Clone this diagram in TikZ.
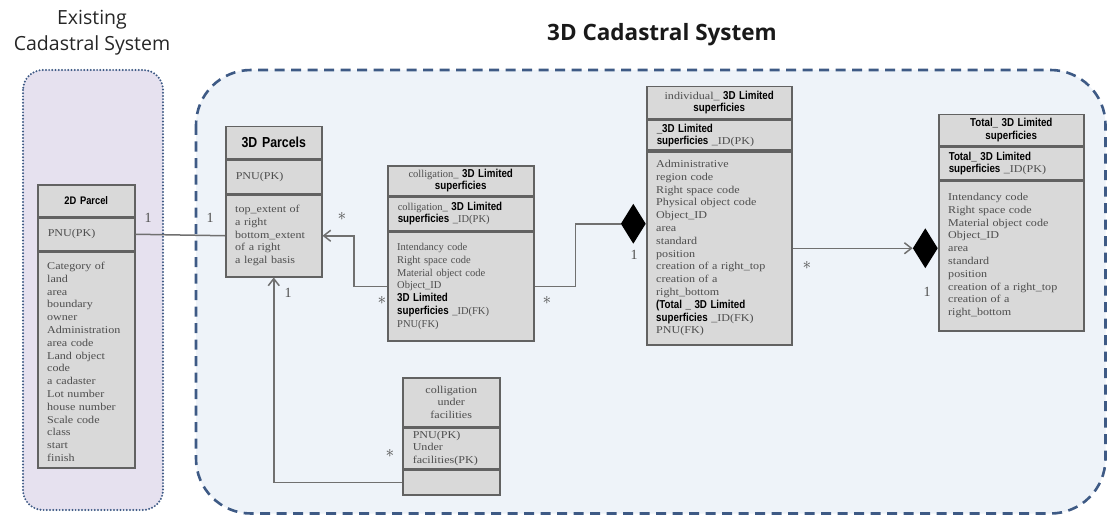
\documentclass[tikz,border=0pt]{standalone}
\usepackage{fontspec}
\setmainfont{Liberation Serif}
\newfontfamily\umlfont[FakeStretch=1.15]{Liberation Serif}
\newfontfamily\clsfont[FakeStretch=0.85]{Liberation Sans}
\newfontfamily\titlefont{Open Sans}
\usepackage{tikz}
\usetikzlibrary{shapes.geometric}
\usetikzlibrary{arrows.meta}
\usetikzlibrary{positioning}

\definecolor{oldbg}{HTML}{E6E1EF}
\definecolor{newbg}{HTML}{EEF3F9}
\definecolor{framecol}{HTML}{3E5A85}
\definecolor{boxfill}{HTML}{D9D9D9}
\definecolor{boxline}{HTML}{626262}
\definecolor{umltxt}{HTML}{4E4E4E}
\definecolor{conncol}{HTML}{707070}

\newcommand{\bsans}[1]{{\clsfont\bfseries\color{black}\fontsize{11.5}{12.5}\selectfont #1}}

\tikzset{
  sect/.style={draw=boxline, fill=boxfill, line width=1.5pt, anchor=north west,
    inner xsep=10pt, inner ysep=0pt, text width=#1, text=umltxt,
    font=\umlfont\fontsize{10.5}{12.5}\selectfont},
  head/.style={sect=#1, align=center},
  keyrow/.style={sect=#1, align=left},
  bodytext/.style={anchor=north west, inner xsep=10pt, inner ysep=11pt, text width=#1,
    align=left, text=umltxt, font=\umlfont\fontsize{10.5}{12.8}\selectfont},
  conn/.style={draw=conncol, line width=1.5pt},
  navarrow/.style={conn, -{Straight Barb[length=7pt,width=11pt]}},
  comp/.style={diamond, fill=black, inner sep=0pt, minimum width=25pt, minimum height=40pt},
  mult/.style={text=umltxt, font=\fontsize{14}{14}\selectfont, inner sep=0pt},
  manymult/.style={text=umltxt, font=\fontsize{17}{17}\selectfont, inner sep=0pt},
}

\begin{document}
\begin{tikzpicture}[x=1pt,y=-1pt]
\useasboundingbox (0,0) rectangle (1108,516);

%frames
\draw[fill=oldbg, draw=framecol, line width=2.2pt, line cap=round, dash pattern=on 0pt off 3.2pt, rounded corners=20pt] (23,70) rectangle (163,510);
\draw[fill=newbg, draw=framecol, line width=2.6pt, dash pattern=on 10pt off 6.5pt, rounded corners=55pt] (196,70) rectangle (1105.5,513.5);
\node[font=\titlefont\fontsize{19.5}{26}\selectfont, align=center, text=black!85] (oldtitle) at (92,33) {Existing\\Cadastral System};
\node[font=\titlefont\bfseries\fontsize{22.5}{26}\selectfont, text=black!90] (newtitle) at (662,35) {3D Cadastral System};

%2D Parcel
\node[head=77pt, minimum height=32pt, font=\clsfont\bfseries\fontsize{11}{13}\selectfont, text=black] (p2d-h) at (37,184) {2D Parcel};
\node[keyrow=77pt, minimum height=32pt] (p2d-k) at (p2d-h.south west) {PNU(PK)};
\node[sect=77pt, minimum height=216pt] (p2d-b) at (p2d-k.south west) {};
\node[bodytext=77pt] (p2d-t) at (p2d-b.north west) {Category of\\land\\area\\boundary\\owner\\Administration\\area code\\Land object\\code\\a cadaster\\Lot number\\house number\\Scale code\\class\\start\\finish};

%3D Parcels
\node[head=76pt, minimum height=32pt, font=\clsfont\bfseries\fontsize{14.5}{15}\selectfont, text=black] (p3d-h) at (225,126) {3D Parcels};
\node[keyrow=76pt, minimum height=33pt] (p3d-k) at (p3d-h.south west) {PNU(PK)};
\node[sect=76pt, minimum height=82pt] (p3d-b) at (p3d-k.south west) {};
\node[bodytext=76pt] (p3d-t) at (p3d-b.north west) {top\_extent of\\a right\\bottom\_extent\\of a right\\a legal basis};

%colligation 3D Limited superficies
\node[head=126pt, minimum height=30pt, font=\rmfamily\fontsize{10.5}{12.5}\selectfont] (coll-h) at (387,165) {colligation\_ \bsans{3D Limited}\\\bsans{superficies}};
\node[keyrow=126pt, minimum height=33pt, font=\rmfamily\fontsize{10.5}{12}\selectfont] (coll-k) at (coll-h.south west) {colligation\_ \bsans{3D Limited}\\\bsans{superficies} \_ID(PK)};
\node[sect=126pt, minimum height=109pt] (coll-b) at (coll-k.south west) {};
\node[bodytext=126pt, font=\rmfamily\fontsize{10.5}{12.8}\selectfont, inner ysep=12pt] (coll-t) at (coll-b.north west) {Intendancy code\\Right space code\\Material object code\\Object\_ID\\\bsans{3D Limited}\\\bsans{superficies} \_ID(FK)\\PNU(FK)};

%individual 3D Limited superficies
\node[head=125pt, minimum height=32pt] (ind-h) at (646,86) {individual\_ \bsans{3D Limited}\\\bsans{superficies}};
\node[keyrow=125pt, minimum height=30pt, font=\umlfont\fontsize{10.5}{12}\selectfont] (ind-k) at (ind-h.south west) {\bsans{\_3D Limited}\\\bsans{superficies} \_ID(PK)};
\node[sect=125pt, minimum height=193pt] (ind-b) at (ind-k.south west) {};
\node[bodytext=125pt, inner ysep=9pt] (ind-t) at (ind-b.north west) {Administrative\\region code\\Right space code\\Physical object code\\Object\_ID\\area\\standard\\position\\creation of a right\_top\\creation of a\\right\_bottom\\\bsans{(Total \_ 3D Limited}\\\bsans{superficies} \_ID(FK)\\PNU(FK)};

%Total 3D Limited superficies
\node[head=125pt, minimum height=31pt] (tot-h) at (938,114) {\bsans{Total\_ 3D Limited}\\\bsans{superficies}};
\node[keyrow=125pt, minimum height=32pt, font=\umlfont\fontsize{10.5}{12}\selectfont] (tot-k) at (tot-h.south west) {\bsans{Total\_ 3D Limited}\\\bsans{superficies} \_ID(PK)};
\node[sect=125pt, minimum height=150pt] (tot-b) at (tot-k.south west) {};
\node[bodytext=125pt, inner ysep=13pt] (tot-t) at (tot-b.north west) {Intendancy code\\Right space code\\Material object code\\Object\_ID\\area\\standard\\position\\creation of a right\_top\\creation of a\\right\_bottom};

%colligation under facilities
\node[head=77pt, minimum height=49pt] (und-h) at (402,377) {colligation\\under\\facilities};
\node[keyrow=77pt, minimum height=40pt] (und-k) at (und-h.south west) {PNU(PK)\\Under\\facilities(PK)};
\node[sect=77pt, minimum height=25pt] (und-c) at (und-k.south west) {};

%composition diamonds
\node[comp, anchor=east, yshift=24.5pt] (idia) at (ind-b.west) {};
\node[comp, anchor=east] (tdia) at (tot-b.west |- ind-b.east) {};

%connectors
\draw[conn] (p2d-k.east) -- (p3d-b.west);
\draw[navarrow] (coll-b.west) -- ++(-33,0) |- (p3d-b.east);
\draw[navarrow] (und-c.west) -| (p3d-b.south);
\draw[conn] (idia.west) -- ++(-45,0) |- (coll-b.east);
\draw[navarrow] (ind-b.east) -- (tdia.west);

%multiplicities
\node[mult] (m-p2d) at (148,218) {1};
\node[mult] (m-p3d) at (210,218) {1};
\node[manymult] (m-p3dr) at (342,216) {$\ast$};
\node[mult] (m-p3db) at (288,293) {1};
\node[manymult] (m-colll) at (382,300) {$\ast$};
\node[manymult] (m-collr) at (547,300) {$\ast$};
\node[mult] (m-ind) at (634,255) {1};
\node[manymult] (m-indr) at (807,265) {$\ast$};
\node[mult] (m-tot) at (927,292) {1};
\node[manymult] (m-und) at (390,453) {$\ast$};

\end{tikzpicture}
\end{document}
